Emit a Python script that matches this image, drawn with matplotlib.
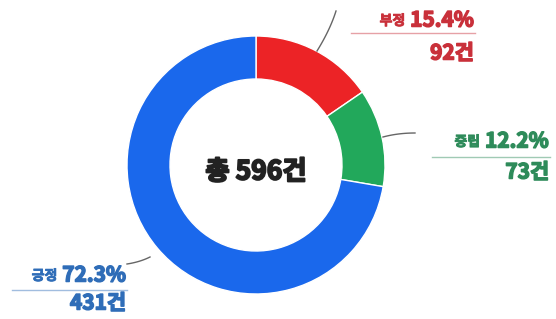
import matplotlib.pyplot as plt
import matplotlib.patheffects as pe
import numpy as np

plt.rcParams['font.family'] = ['Noto Sans CJK JP', 'Noto Sans CJK KR', 'DejaVu Sans']

# data
labels = ['부정', '중립', '긍정']
counts = [92, 73, 431]
shares = [15.4, 12.2, 72.3]
colors = ['#EC2326', '#22A85B', '#1A68EC']
text_colors = ['#C9303A', '#2E8B5A', '#2F6DB8']
total = 596

W, H = 556, 319
fig = plt.figure(figsize=(W / 100, H / 100), dpi=100)
ax = fig.add_axes([0, 0, 1, 1])

cx, cy = 256, H - 165
R, width = 129, 43

ax.pie(counts, colors=colors, startangle=90, counterclock=False,
       radius=R, center=(cx, cy),
       wedgeprops=dict(width=width, edgecolor='white', linewidth=1))
ax.set_xlim(0, W)
ax.set_ylim(0, H)
ax.set_aspect('equal')
ax.axis('off')


def heavy(c, lw=1.1):
    # the CJK font only ships one weight here, so thicken strokes by hand
    return [pe.withStroke(linewidth=lw, foreground=c)]


# centre text
ax.text(cx, H - 172, '총 %d건' % total, ha='center', va='center',
        fontsize=19, fontweight='bold', color='#222222',
        path_effects=heavy('#222222', 1.4))

# label placement (pixel coords from top-left): right edge, pct y, underline, count y, underline left
spots = [
    (474, 20, 33, 53, 351),
    (549, 141, 157, 172, 432),
    (126, 275, 290, 303, 12),
]
# leader lines: start on ring, control, end near label
leaders = [
    ((317, 51), (330, 30), (336, 11)),
    ((383, 137), (398, 133), (415, 133)),
    ((150, 257), (140, 262), (127, 264)),
]

for i in range(3):
    rx, py, uy, ny, lx = spots[i]
    c = text_colors[i]
    pct = ax.text(rx, H - py, '%.1f%%' % shares[i], ha='right', va='center',
                  fontsize=15, fontweight='bold', color=c, path_effects=heavy(c))
    fig.canvas.draw()
    bb = pct.get_window_extent()
    ax.text(bb.x0 - 5, H - py - 1, labels[i], ha='right', va='center',
            fontsize=10, fontweight='bold', color=c, path_effects=heavy(c, 0.6))
    ax.plot([lx, rx + 1], [H - uy, H - uy], color=c, alpha=0.45, lw=1)
    ax.text(rx, H - ny, '%d건' % counts[i], ha='right', va='center',
            fontsize=15, fontweight='bold', color=c, path_effects=heavy(c))
    p0, p1, p2 = [np.array(p, dtype=float) for p in leaders[i]]
    t = np.linspace(0, 1, 30)[:, None]
    curve = (1 - t) ** 2 * p0 + 2 * (1 - t) * t * p1 + t ** 2 * p2
    ax.plot(curve[:, 0], H - curve[:, 1], color='#666666', lw=1)

fig.savefig('out.png', dpi=100)
